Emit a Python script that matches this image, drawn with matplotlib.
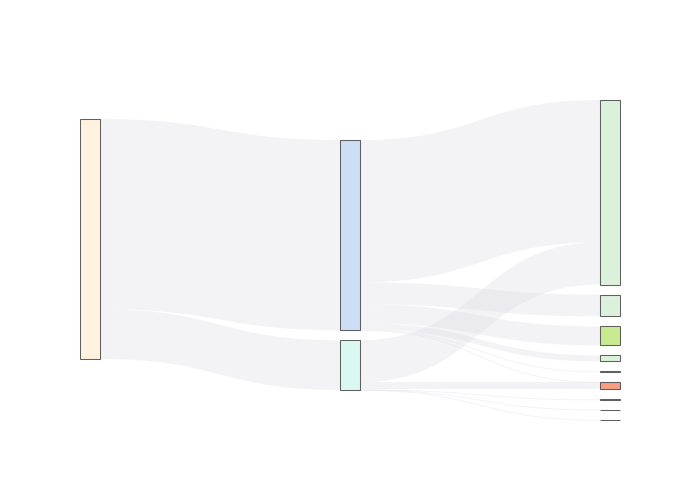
import numpy as np
import matplotlib.pyplot as plt
from matplotlib.patches import Rectangle, Polygon

# ── Dados ─────────────────────────────────────────────────────────────────────
node_names  = ['Total', 'Grupo 1', 'Grupo 2',
               'R1', 'R2', 'R3', 'R4', 'R5', 'R6', 'R7', 'R8', 'R9']
node_column = [0, 1, 1, 2, 2, 2, 2, 2, 2, 2, 2, 2]
node_colors = ['#fff2dc', '#c6dbf4', '#d6f8f1',
               '#d9f0d8', '#d9f0d8', '#c2e983', '#d9f0d8', '#d9f0d8',
               '#f79273', '#d9f0d8', '#d9f0d8', '#d9f0d8']

link_source = [0, 0, 1, 1, 1, 1, 1, 1, 2, 2, 2, 2, 2]
link_target = [1, 2, 3, 4, 5, 6, 7, 8, 3, 8, 9, 10, 11]
link_value  = [191, 50, 143, 22, 19, 6, 0.5, 0.5, 42.3, 7.1, 0.2, 0.2, 0.2]

# ── Layout (estilo plotly) ────────────────────────────────────────────────────
W, H = 700, 500
PL, PR, PT, PB = 80, 620, 100, 420
NODE_W = 20
PAD = 10
col_top = [119, 140, 100]

n = len(node_names)
val_in = np.zeros(n)
val_out = np.zeros(n)
for s, t, v in zip(link_source, link_target, link_value):
    val_out[s] += v
    val_in[t] += v
node_val = np.maximum(val_in, val_out)

ncol = max(node_column) + 1
ky = min((PB - PT - (sum(1 for c in node_column if c == k) - 1) * PAD)
         / sum(node_val[i] for i in range(n) if node_column[i] == k)
         for k in range(ncol))

x0 = np.array([PL + c * (PR - PL - NODE_W) / (ncol - 1) for c in node_column])
y0 = np.zeros(n)
hgt = node_val * ky
for k in range(ncol):
    y = col_top[k]
    for i in range(n):
        if node_column[i] == k:
            y0[i] = y
            y += hgt[i] + PAD

# ── Figura ────────────────────────────────────────────────────────────────────
fig = plt.figure(figsize=(7, 5), dpi=100)
ax = fig.add_axes([0, 0, 1, 1])
ax.set_xlim(0, W)
ax.set_ylim(H, 0)
ax.axis('off')

# links
order = range(len(link_value))
out_off = y0.copy()
in_off = y0.copy()
src_sorted = sorted(order, key=lambda j: (link_source[j], y0[link_target[j]]))
tgt_sorted = sorted(order, key=lambda j: (link_target[j], y0[link_source[j]]))
ys = {}
yt = {}
for j in src_sorted:
    s = link_source[j]
    ys[j] = out_off[s]
    out_off[s] += link_value[j] * ky
for j in tgt_sorted:
    t = link_target[j]
    yt[j] = in_off[t]
    in_off[t] += link_value[j] * ky

tt = np.linspace(0, 1, 60)


def bez(xa, ya, xb, yb):
    xm = (xa + xb) / 2
    bx = (1-tt)**3*xa + 3*(1-tt)**2*tt*xm + 3*(1-tt)*tt**2*xm + tt**3*xb
    by = (1-tt)**3*ya + 3*(1-tt)**2*tt*ya + 3*(1-tt)*tt**2*yb + tt**3*yb
    return bx, by


for j in order:
    s, t = link_source[j], link_target[j]
    xa = x0[s] + NODE_W
    xb = x0[t]
    w = max(link_value[j] * ky, 1.0)
    tx, ty = bez(xa, ys[j], xb, yt[j])
    bx, by = bez(xa, ys[j] + w, xb, yt[j] + w)
    pts = np.column_stack([np.concatenate([tx, bx[::-1]]),
                           np.concatenate([ty, by[::-1]])])
    ax.add_patch(Polygon(pts, closed=True, facecolor=(0.78, 0.78, 0.84),
                         alpha=0.2, edgecolor='none', zorder=1))

# nodes
for i in range(n):
    ax.add_patch(Rectangle((x0[i], y0[i]), NODE_W, max(hgt[i], 0.5),
                           facecolor=node_colors[i], edgecolor='#505050',
                           lw=0.75, alpha=0.9, zorder=3))

fig.savefig('out.png', dpi=100, facecolor='white')
